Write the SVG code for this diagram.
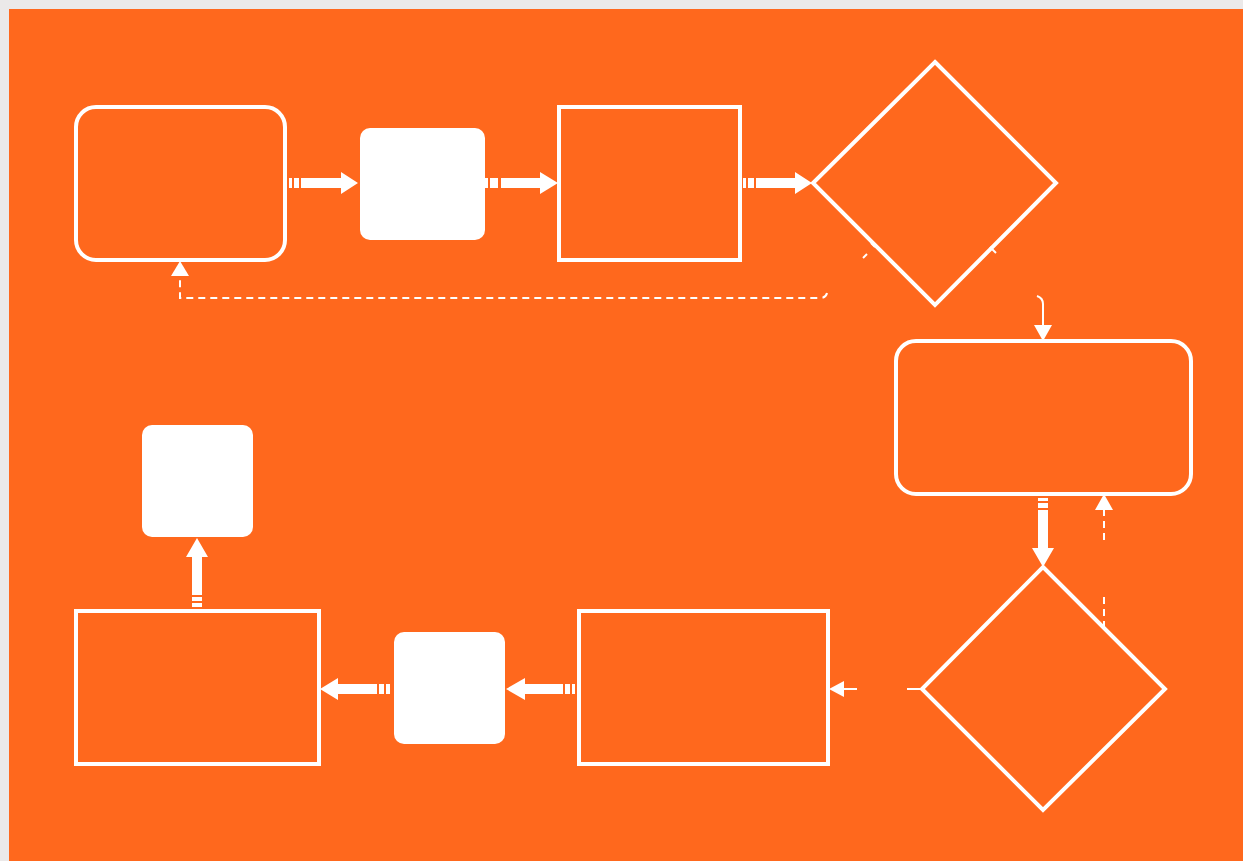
<svg xmlns="http://www.w3.org/2000/svg" width="1243" height="861" viewBox="0 0 1243 861">
<style>
.o{fill:none;stroke:#fff;stroke-width:4}
.f{fill:#fff}
.t{fill:none;stroke:#fff;stroke-width:2}
.d{fill:none;stroke:#fff;stroke-width:2;stroke-dasharray:7 5}
</style>
<rect x="0" y="0" width="1243" height="861" fill="#ebe9e9"/>
<rect x="9" y="9" width="1234" height="852" fill="#ff681d"/>
<g id="n1"><rect class="o" x="76" y="107" width="209" height="153" rx="20"/></g>
<g id="n2"><rect class="f" x="360" y="128" width="125" height="112" rx="10"/></g>
<g id="n3"><rect class="o" x="559" y="107" width="181" height="153"/></g>
<g id="n4"><polygon class="o" points="935,62 1056,183 935,305 813,183"/></g>
<g id="n5"><rect class="o" x="896" y="341" width="295" height="153" rx="20"/></g>
<g id="n6"><polygon class="o" points="1043,567 1165,689 1043,810 922,689"/></g>
<g id="n7"><rect class="o" x="579" y="611" width="249" height="153"/></g>
<g id="n8"><rect class="f" x="394" y="632" width="111" height="112" rx="10"/></g>
<g id="n9"><rect class="o" x="76" y="611" width="243" height="153"/></g>
<g id="n10"><rect class="f" x="142" y="425" width="111" height="112" rx="10"/></g>
<g id="connectors" fill="#fff">
<rect x="289" y="178" width="3" height="10"/><rect x="294" y="178" width="5" height="10"/>
<polygon points="301,178 341,178 341,172 358,183 341,194 341,188 301,188"/>
<rect x="485" y="178" width="3" height="10"/><rect x="490" y="178" width="8" height="10"/>
<polygon points="501,178 540,178 540,172 558,183 540,194 540,188 501,188"/>
<rect x="743" y="178" width="3" height="10"/><rect x="748" y="178" width="6" height="10"/>
<polygon points="756,178 795,178 795,172 812,183 795,194 795,188 756,188"/>
<rect x="1038" y="498" width="10" height="3"/><rect x="1038" y="503" width="10" height="5"/>
<polygon points="1038,510 1048,510 1048,548 1054,548 1043,567 1032,548 1038,548"/>
<rect x="572" y="684" width="3" height="10"/><rect x="565" y="684" width="5" height="10"/>
<polygon points="563,684 525,684 525,678 506,689 525,700 525,694 563,694"/>
<rect x="386" y="684" width="4" height="10"/><rect x="379" y="684" width="5" height="10"/>
<polygon points="377,684 338,684 338,678 320,689 338,700 338,694 377,694"/>
<rect x="192" y="603" width="10" height="4"/><rect x="192" y="597" width="10" height="4"/>
<polygon points="192,595 202,595 202,557 208,557 197,538 186,557 192,557"/>
<path class="t" d="M857,689 H843"/>
<polygon points="829,689 844,681 844,697"/>
<path class="t" d="M907,689 H922"/>
<path class="t" d="M990,247 L996,253"/>
<path class="t" d="M1037,296 Q1043,298 1043,304 V326"/>
<polygon points="1043,341 1034,325 1052,325"/>
<path class="t" d="M871,243 L875,247"/>
<path class="t" d="M863,258 L867,254"/>
<path class="d" d="M827,293 Q826,298 820,298 H180 V276"/>
<polygon points="180,261 171,276 189,276"/>
<path class="d" d="M1104,628 V592"/>
<path class="d" d="M1104,540 V510"/>
<polygon points="1104,494 1095,510 1113,510"/>
</g>
</svg>
